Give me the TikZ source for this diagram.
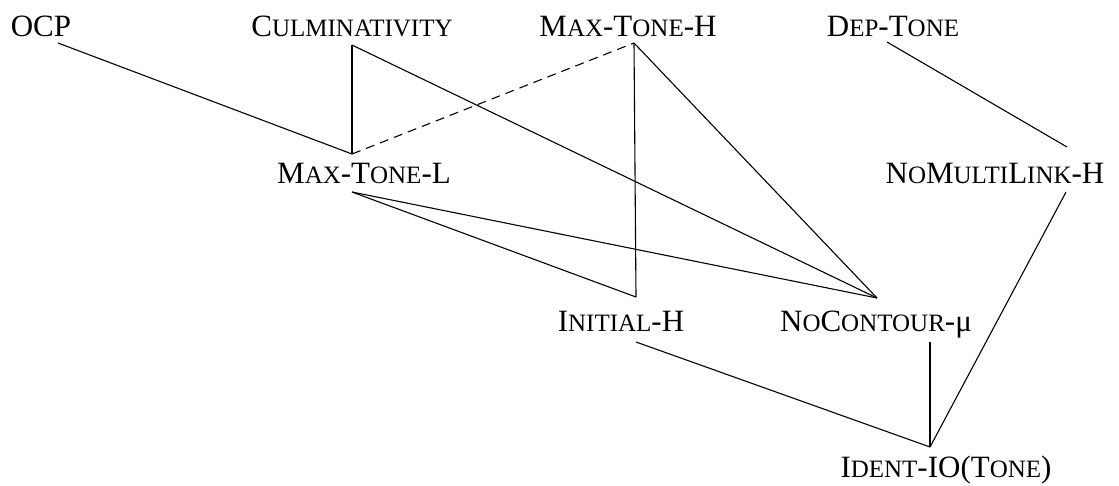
\documentclass[tikz,border=0pt]{standalone}
\usepackage{fontspec}
\setmainfont{Liberation Serif}
\newcommand\sm[1]{{\fontsize{25}{25}\selectfont #1}}
\begin{document}
\begin{tikzpicture}[x=1pt,y=-1pt,
  lbl/.style={inner sep=0pt, anchor=base, font=\fontsize{31}{31}\selectfont},
  edge/.style={line width=1.1pt},
  dedge/.style={edge, dash pattern=on 9pt off 6pt}]
\useasboundingbox (0,0) rectangle (1119,485);
\node[lbl] (ocp) at (41,36) {OCP};
\node[lbl] (culm) at (352,36) {C\sm{ULMINATIVITY}};
\node[lbl] (mth) at (628,36) {M\sm{AX}-T\sm{ONE}-H};
\node[lbl] (dep) at (893,36) {D\sm{EP}-T\sm{ONE}};
\node[lbl] (mtl) at (364,183) {M\sm{AX}-T\sm{ONE}-L};
\node[lbl] (nml) at (995,183) {N\sm{O}M\sm{ULTI}L\sm{INK}-H};
\node[lbl] (ini) at (621,331) {I\sm{NITIAL}-H};
\node[lbl] (noc) at (876,331) {N\sm{O}C\sm{ONTOUR}-μ};
\node[lbl] (ident) at (946,477) {I\sm{DENT}-IO(T\sm{ONE})};
% connector ends
\coordinate (ocpB) at (58,43);
\coordinate (culmB) at (352,45);
\coordinate (mthB) at (634,43);
\coordinate (depB) at (887,42);
\coordinate (mtlT) at (352,154);
\coordinate (mtlB) at (352,192);
\coordinate (nmlT) at (1067,147);
\coordinate (nmlB) at (1066,192);
\coordinate (iniT) at (636,297);
\coordinate (nocT) at (877,298);
\coordinate (iniB) at (636,342);
\coordinate (nocB) at (930,342);
\coordinate (idT) at (930,447);
\draw[edge] (ocpB) -- (mtlT);
\draw[edge] (culmB) -- (mtlT);
\draw[edge] (culmB) -- (nocT);
\draw[dedge] (mtlT) -- (mthB);
\draw[edge] (mthB) -- (iniT);
\draw[edge] (mthB) -- (nocT);
\draw[edge] (mtlB) -- (iniT);
\draw[edge] (mtlB) -- (nocT);
\draw[edge] (depB) -- (nmlT);
\draw[edge] (nmlB) -- (idT);
\draw[edge] (iniB) -- (idT);
\draw[edge] (nocB) -- (idT);
\end{tikzpicture}
\end{document}
